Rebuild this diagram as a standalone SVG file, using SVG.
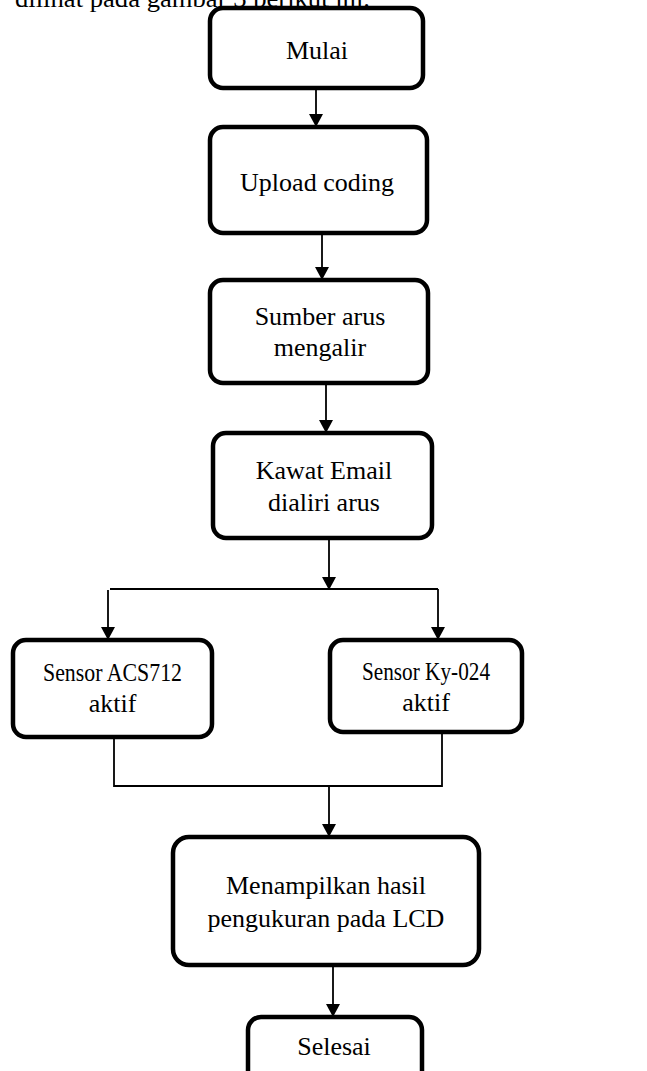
<svg xmlns="http://www.w3.org/2000/svg" width="647" height="1071" viewBox="0 0 647 1071">
<style>
.box{fill:#fff;stroke:#000;stroke-width:4.5}
.t{font-family:"Liberation Serif","Times New Roman",serif;font-size:26px;fill:#000;text-anchor:middle}
.c{fill:none;stroke:#000;stroke-width:1.8}
</style>
<defs>
<marker id="ah" markerUnits="userSpaceOnUse" markerWidth="13" markerHeight="14" refX="13" refY="7" orient="auto" viewBox="0 0 13 14">
<path d="M0,0 L13,7 L0,14 z" fill="#000"/>
</marker>
</defs>
<rect width="647" height="1071" fill="#fff"/>
<text x="15" y="7" style="font-family:'Liberation Serif','Times New Roman',serif;font-size:26px" textLength="355" lengthAdjust="spacingAndGlyphs">dilihat pada gambar 3 berikut ini.</text>
<g id="connectors">
<line class="c" x1="316" y1="88" x2="316" y2="127" marker-end="url(#ah)"/>
<line class="c" x1="322" y1="233" x2="322" y2="280" marker-end="url(#ah)"/>
<line class="c" x1="326" y1="383" x2="326" y2="433" marker-end="url(#ah)"/>
<line class="c" x1="329" y1="538" x2="329" y2="590" marker-end="url(#ah)"/>
<polyline class="c" points="110,589 438,589"/>
<line class="c" x1="108" y1="590" x2="108" y2="640" marker-end="url(#ah)"/>
<line class="c" x1="438" y1="589" x2="438" y2="640" marker-end="url(#ah)"/>
<polyline class="c" points="114,737 114,786 442,786 442,732"/>
<line class="c" x1="329" y1="786" x2="329" y2="837" marker-end="url(#ah)"/>
<line class="c" x1="333" y1="965" x2="333" y2="1017" marker-end="url(#ah)"/>
</g>
<g id="mulai">
<rect class="box" x="210" y="8" width="213" height="80" rx="13"/>
<text class="t" x="317" y="59">Mulai</text>
</g>
<g id="upload">
<rect class="box" x="210" y="127" width="217" height="106" rx="13"/>
<text class="t" x="317" y="191">Upload coding</text>
</g>
<g id="sumber">
<rect class="box" x="210" y="280" width="218" height="103" rx="13"/>
<text class="t" x="320" y="325">Sumber arus</text>
<text class="t" x="320" y="356">mengalir</text>
</g>
<g id="kawat">
<rect class="box" x="213" y="433" width="219" height="105" rx="13"/>
<text class="t" x="324" y="479">Kawat Email</text>
<text class="t" x="324" y="511">dialiri arus</text>
</g>
<g id="acs">
<rect class="box" x="13" y="640" width="199" height="97" rx="13"/>
<text class="t" x="112.5" y="681" textLength="139" lengthAdjust="spacingAndGlyphs">Sensor ACS712</text>
<text class="t" x="112.5" y="712">aktif</text>
</g>
<g id="ky">
<rect class="box" x="330" y="640" width="192" height="92" rx="13"/>
<text class="t" x="426" y="680" textLength="128" lengthAdjust="spacingAndGlyphs">Sensor Ky-024</text>
<text class="t" x="426" y="711">aktif</text>
</g>
<g id="lcd">
<rect class="box" x="173" y="837" width="306" height="128" rx="16"/>
<text class="t" x="326" y="894">Menampilkan hasil</text>
<text class="t" x="326" y="927">pengukuran pada LCD</text>
</g>
<g id="selesai">
<rect class="box" x="248" y="1017" width="174" height="80" rx="13"/>
<text class="t" x="334" y="1055">Selesai</text>
</g>
</svg>
